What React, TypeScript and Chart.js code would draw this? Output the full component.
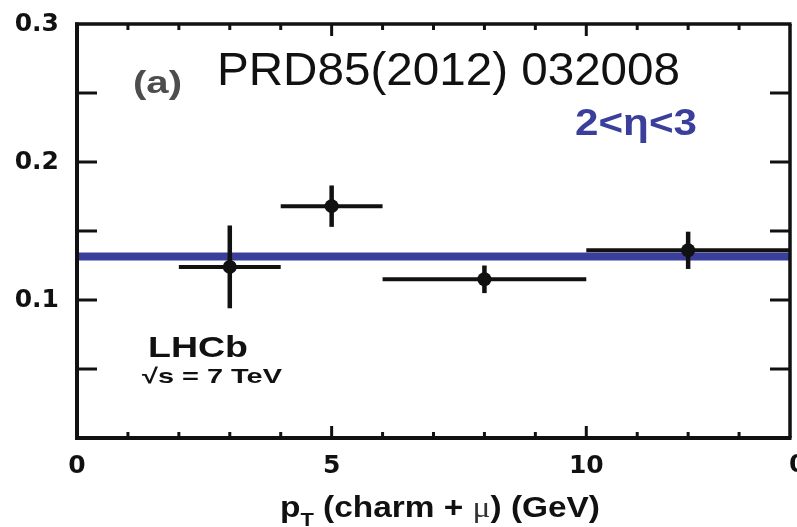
import React, { useEffect, useRef } from "react";
import { Chart, registerables } from "chart.js";

Chart.register(...registerables);

// ---- data ----
const binCenters = [3, 5, 8, 12];
const binLow = [2, 4, 6, 10];
const binHigh = [4, 6, 10, 14];
const ratioValues = [0.124, 0.168, 0.115, 0.136];
const ratioErrors = [0.03, 0.015, 0.01, 0.0135];
const fitValue = 0.1315;
const xRange = [0, 14];
const yRange = [0, 0.3];
const xLabeledTicks = [0, 5, 10];
const yLabeledTicks = [0.1, 0.2, 0.3];
const xMinorStep = 1;
const xMajorStep = 5;
const yMinorStep = 0.05;

const INK = "#111111";
const BLUE = "#3b3f9c";
const TICK_FONT = { family: "'DejaVu Sans', sans-serif", size: 25, weight: "bold" as const };

function fitText(
  ctx: CanvasRenderingContext2D,
  text: string,
  font: string,
  color: string,
  left: number,
  right: number,
  baseline: number
) {
  ctx.save();
  ctx.font = font;
  const w = ctx.measureText(text).width;
  const sx = (right - left) / w;
  ctx.translate(left, baseline);
  ctx.scale(sx, 1);
  ctx.fillStyle = color;
  ctx.textAlign = "left";
  ctx.textBaseline = "alphabetic";
  ctx.fillText(text, 0, 0);
  ctx.restore();
}

const near = (a: number, b: number) => Math.abs(a - b) < 1e-6;

const decorPlugin = {
  id: "decor",
  afterDatasetDraw(chart: any, args: any) {
    if (args.index !== 0) return;
    const ctx: CanvasRenderingContext2D = chart.ctx;
    const xs = chart.scales.x;
    const ys = chart.scales.y;
    ctx.save();
    ctx.strokeStyle = INK;
    ctx.lineCap = "butt";
    for (let i = 0; i < binCenters.length; i++) {
      const py = ys.getPixelForValue(ratioValues[i]);
      ctx.lineWidth = 4;
      ctx.beginPath();
      ctx.moveTo(xs.getPixelForValue(binLow[i]), py);
      ctx.lineTo(xs.getPixelForValue(binHigh[i]), py);
      ctx.stroke();
      const px = xs.getPixelForValue(binCenters[i]);
      ctx.lineWidth = 4.5;
      ctx.beginPath();
      ctx.moveTo(px, ys.getPixelForValue(ratioValues[i] - ratioErrors[i]));
      ctx.lineTo(px, ys.getPixelForValue(ratioValues[i] + ratioErrors[i]));
      ctx.stroke();
    }
    ctx.restore();
  },
  afterDraw(chart: any) {
    const ctx: CanvasRenderingContext2D = chart.ctx;
    const xs = chart.scales.x;
    const ys = chart.scales.y;
    const { left, right, top, bottom } = chart.chartArea;
    ctx.save();
    ctx.strokeStyle = INK;
    ctx.lineCap = "butt";
    const seg = (x1: number, y1: number, x2: number, y2: number) => {
      ctx.beginPath();
      ctx.moveTo(x1, y1);
      ctx.lineTo(x2, y2);
      ctx.stroke();
    };
    // inward ticks
    ctx.lineWidth = 3;
    for (let v = xRange[0] + xMinorStep; v < xRange[1] - 1e-9; v += xMinorStep) {
      const px = xs.getPixelForValue(v);
      const len = near(v % xMajorStep, 0) ? 12 : 6;
      seg(px, bottom, px, bottom - len);
      seg(px, top, px, top + len);
    }
    for (let v = yRange[0] + yMinorStep; v < yRange[1] - 1e-9; v += yMinorStep) {
      const py = ys.getPixelForValue(v);
      seg(left, py, left + 20, py);
      seg(right, py, right - 20, py);
    }
    // frame
    ctx.lineWidth = 3.5;
    seg(left - 2, top, right + 1.5, top);
    seg(right, top, right, bottom);
    ctx.lineWidth = 4;
    seg(left, top - 1.5, left, bottom + 2);
    seg(left - 2, bottom, right + 1.5, bottom);
    ctx.restore();

    // neighbouring panel's "0" label, clipped by the image edge
    ctx.save();
    ctx.font = "bold 25px 'DejaVu Sans', sans-serif";
    ctx.fillStyle = INK;
    ctx.textAlign = "left";
    ctx.textBaseline = "middle";
    ctx.fillText("0", right - 1, 465);
    ctx.restore();

    // annotations
    fitText(ctx, "(a)", "bold 31px 'Liberation Sans', Arial, sans-serif", "#4d4d4d", 133, 182, 93);
    fitText(ctx, "PRD85(2012) 032008", "47px 'Liberation Sans', Arial, sans-serif", INK, 217, 680, 85);
    fitText(ctx, "2<η<3", "bold 36px 'Liberation Sans', Arial, sans-serif", BLUE, 575, 697, 135);
    fitText(ctx, "LHCb", "bold 30px 'Liberation Sans', Arial, sans-serif", INK, 148, 248, 357);
    fitText(ctx, "√s = 7 TeV", "bold 21px 'Liberation Sans', Arial, sans-serif", INK, 142, 282, 383);

    // x-axis title: p_T (charm + μ) (GeV)
    ctx.save();
    const bigBold = "bold 29px 'Liberation Sans', Arial, sans-serif";
    const subBold = "bold 19px 'Liberation Sans', Arial, sans-serif";
    const serif = "29px 'Liberation Serif', serif";
    const parts: [string, string, number][] = [
      ["p", bigBold, 0],
      ["T", subBold, 9],
      [" (charm + ", bigBold, 0],
      ["μ", serif, 0],
      [") (GeV)", bigBold, 0],
    ];
    let total = 0;
    for (const [t, f] of parts) {
      ctx.font = f;
      total += ctx.measureText(t).width;
    }
    const tLeft = 280;
    const tRight = 600;
    const sx = (tRight - tLeft) / total;
    ctx.translate(tLeft, 517);
    ctx.scale(sx, 1);
    ctx.textBaseline = "alphabetic";
    ctx.textAlign = "left";
    let cx = 0;
    for (const [t, f, dy] of parts) {
      ctx.font = f;
      ctx.fillStyle = f === serif ? "#333333" : INK;
      ctx.fillText(t, cx, dy);
      cx += ctx.measureText(t).width;
    }
    ctx.restore();
  },
};

export default function App() {
  const canvasRef = useRef<HTMLCanvasElement | null>(null);

  useEffect(() => {
    document.body.style.margin = "0";
    const canvas = canvasRef.current;
    if (!canvas) return;
    const chart = new Chart(canvas, {
      type: "scatter",
      data: {
        datasets: [
          {
            label: "fit",
            data: [
              { x: xRange[0], y: fitValue },
              { x: xRange[1], y: fitValue },
            ],
            showLine: true,
            borderColor: BLUE,
            borderWidth: 8,
            borderCapStyle: "butt",
            pointRadius: 0,
            order: 3,
          } as any,
          {
            label: "data",
            data: binCenters.map((x, i) => ({ x, y: ratioValues[i] })),
            pointRadius: 7,
            pointBackgroundColor: INK,
            pointBorderWidth: 0,
            order: 1,
          } as any,
        ],
      },
      options: {
        animation: false,
        responsive: false,
        devicePixelRatio: 1,
        layout: { padding: { top: 24, right: 4, left: 0, bottom: 0 } },
        plugins: {
          legend: { display: false },
          tooltip: { enabled: false },
        },
        scales: {
          x: {
            type: "linear",
            min: xRange[0],
            max: xRange[1],
            grid: { display: false, drawTicks: false },
            border: { display: false },
            ticks: {
              stepSize: 5,
              padding: 13,
              font: TICK_FONT,
              color: INK,
              maxRotation: 0,
              autoSkip: false,
              callback: (v: any) =>
                xLabeledTicks.some((t) => near(t, Number(v))) ? String(Math.round(Number(v))) : "",
            },
            afterFit: (s: any) => {
              s.height = 89;
              s.paddingLeft = 0;
              s.paddingRight = 0;
            },
          },
          y: {
            type: "linear",
            min: yRange[0],
            max: yRange[1],
            grid: { display: false, drawTicks: false },
            border: { display: false },
            ticks: {
              stepSize: 0.1,
              padding: 18,
              font: TICK_FONT,
              color: INK,
              callback: (v: any) => {
                const t = yLabeledTicks.find((t) => near(t, Number(v)));
                return t === undefined ? "" : t.toFixed(1);
              },
            },
            afterFit: (s: any) => {
              s.width = 77;
              s.paddingTop = 0;
              s.paddingBottom = 0;
            },
          },
        },
      },
      plugins: [decorPlugin],
    });
    return () => chart.destroy();
  }, []);

  return (
    <div style={{ width: 797, height: 527, background: "#ffffff" }}>
      <canvas ref={canvasRef} width={797} height={527} />
    </div>
  );
}
